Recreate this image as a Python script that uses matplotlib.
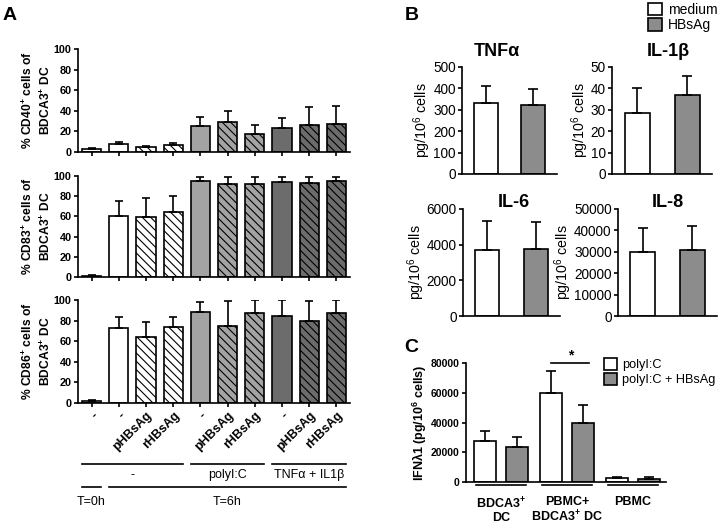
import numpy as np
import matplotlib.pyplot as plt
import matplotlib.transforms as mtransforms
from matplotlib.patches import Patch

plt.rcParams['font.family'] = ['Liberation Sans', 'DejaVu Sans']
plt.rcParams['mathtext.fontset'] = 'custom'
plt.rcParams['mathtext.rm'] = 'Liberation Sans'
plt.rcParams['mathtext.bf'] = 'Liberation Sans:bold'
plt.rcParams['mathtext.default'] = 'regular'
plt.rcParams['hatch.linewidth'] = 0.8

# ---- Panel A data ----
a_ticklabels = ['-', '-', 'pHBsAg', 'rHBsAg', '-', 'pHBsAg', 'rHBsAg', '-', 'pHBsAg', 'rHBsAg']
cd40 = [3, 8, 5, 7, 25, 29, 18, 23, 26, 27]
cd40_err = [1, 1.5, 1, 1.5, 9, 11, 8, 10, 18, 18]
cd83 = [1, 60, 59, 64, 95, 92, 92, 94, 93, 95]
cd83_err = [0.5, 15, 19, 16, 4, 7, 7, 5, 6, 4]
cd86 = [2, 73, 64, 74, 88, 75, 87, 85, 80, 87]
cd86_err = [1, 11, 15, 10, 10, 24, 13, 15, 19, 13]
a_ylabels = ['% CD40$^{+}$ cells of\nBDCA3$^{+}$ DC',
             '% CD83$^{+}$ cells of\nBDCA3$^{+}$ DC',
             '% CD86$^{+}$ cells of\nBDCA3$^{+}$ DC']
# stimulation groups (first bar, last bar, label)
stim_groups = [(0, 3, '-'), (4, 6, 'polyI:C'), (7, 9, 'TNFα + IL1β')]
time_groups = [(0, 0, 'T=0h'), (1, 9, 'T=6h')]

# ---- Panel B data ----
b_names = ['TNFα', 'IL-1β', 'IL-6', 'IL-8']
b_medium = [330, 28.5, 3700, 30000]
b_medium_err = [80, 11.5, 1650, 11000]
b_hbsag = [320, 37, 3780, 31000]
b_hbsag_err = [78, 9, 1500, 11000]
b_ymax = [500, 50, 6000, 50000]
b_step = [100, 10, 2000, 10000]

# ---- Panel C data ----
c_groups = ['BDCA3$^{+}$\nDC', 'PBMC+\nBDCA3$^{+}$ DC', 'PBMC']
c_polyic = [27500, 60000, 2600]
c_polyic_err = [6800, 14500, 900]
c_hbsag = [23800, 40000, 2300]
c_hbsag_err = [6500, 12000, 900]

LW = 1.2
GRAY_B = '#8c8c8c'
hat = '\\\\\\\\'
a_colors = ['white'] * 4 + ['#a3a3a3'] * 3 + ['#6c6c6c'] * 3
a_hatches = ['', '', hat, hat, '', hat, hat, '', hat, hat]


def style_axes(ax, tick_size, bold):
    for s in ['top', 'right']:
        ax.spines[s].set_visible(False)
    for s in ['left', 'bottom']:
        ax.spines[s].set_linewidth(LW)
    ax.tick_params(width=LW, length=3, labelsize=tick_size, pad=1.5)
    if bold:
        for t in ax.get_yticklabels() + ax.get_xticklabels():
            t.set_fontweight('bold')


fig = plt.figure(figsize=(7.2, 5.28), dpi=100)

# ---- Panel A ----
a_rects = [(0.712, 0.195), (0.4754, 0.191), (0.2367, 0.195)]
a_data = [(cd40, cd40_err), (cd83, cd83_err), (cd86, cd86_err)]
x = np.arange(len(cd40))
bw = 0.7
axes_a = []
for (bot, h), (vals, errs), ylab in zip(a_rects, a_data, a_ylabels):
    ax = fig.add_axes([78 / 720, bot, 272 / 720, h])
    ax.bar(x, vals, width=bw, color=a_colors, edgecolor='black', linewidth=LW,
           hatch=a_hatches)
    ax.errorbar(x, vals, yerr=[np.zeros(len(errs)), errs], fmt='none',
                ecolor='black', elinewidth=LW, capsize=3, capthick=LW)
    ax.set_xlim(-0.5, 9.5)
    ax.set_ylim(0, 100)
    ax.set_yticks(range(0, 101, 20))
    ax.set_xticks(x)
    ax.set_xticklabels([])
    ax.set_ylabel(ylab, fontweight='bold', fontsize=8.7, linespacing=1.3)
    ax.yaxis.set_label_coords(-0.093, 0.5)
    style_axes(ax, 7.8, True)
    axes_a.append(ax)

ax = axes_a[-1]
ax.set_xticklabels(a_ticklabels, rotation=45, ha='right', rotation_mode='anchor',
                   fontweight='bold', fontsize=9)
trans = mtransforms.blended_transform_factory(ax.transData, fig.transFigure)
for i0, i1, lab in stim_groups:
    ax.plot([i0 - bw / 2, i1 + bw / 2], [0.121, 0.121], color='black', lw=LW,
            transform=trans, clip_on=False)
    ax.text((i0 + i1) / 2, 0.100, lab, transform=trans, ha='center', va='center',
            fontsize=9)
for i0, i1, lab in time_groups:
    ax.plot([i0 - bw / 2, i1 + bw / 2], [0.078, 0.078], color='black', lw=LW,
            transform=trans, clip_on=False)
    ax.text((i0 + i1) / 2, 0.049, lab, transform=trans, ha='center', va='center',
            fontsize=9)

# ---- Panel B ----
b_rects = [(462, 95, 0.6705), (612, 100, 0.6705), (463, 97, 0.4015), (618, 99, 0.4015)]
b_title_pos = [(0.37, 1.14), (0.56, 1.14), (0.52, 1.056), (0.5, 1.056)]
for k, (l, w, bot) in enumerate(b_rects):
    ax = fig.add_axes([l / 720, bot, w / 720, 0.2027])
    xb = np.arange(2)
    vals = [b_medium[k], b_hbsag[k]]
    errs = [b_medium_err[k], b_hbsag_err[k]]
    ax.bar(xb, vals, width=0.5, color=['white', GRAY_B], edgecolor='black',
           linewidth=LW)
    ax.errorbar(xb, vals, yerr=[[0, 0], errs], fmt='none', ecolor='black',
                elinewidth=LW, capsize=3.5, capthick=LW)
    ax.set_xlim(-0.5, 1.5)
    ax.set_ylim(0, b_ymax[k])
    ax.set_yticks(np.arange(0, b_ymax[k] + 1, b_step[k]))
    ax.set_xticks([])
    ax.set_ylabel('pg/10$^{6}$ cells', fontsize=10.3, labelpad=0)
    style_axes(ax, 9.8, False)
    tx, ty = b_title_pos[k]
    ax.text(tx, ty, b_names[k], transform=ax.transAxes, ha='center', va='center',
            fontweight='bold', fontsize=13)

fig.legend(handles=[Patch(facecolor='white', edgecolor='black', lw=LW, label='medium'),
                    Patch(facecolor=GRAY_B, edgecolor='black', lw=LW, label='HBsAg')],
           loc='upper right', bbox_to_anchor=(1.0, 1.0), frameon=False, fontsize=10,
           handlelength=1.0, handleheight=1.0, handletextpad=0.4, labelspacing=0.1,
           borderaxespad=0.1, borderpad=0.1)

# ---- Panel C ----
ax = fig.add_axes([466 / 720, 0.0871, 200 / 720, 0.2254])
xc = np.arange(len(c_groups))
off, cw = 0.24, 0.33
ax.bar(xc - off, c_polyic, width=cw, color='white', edgecolor='black', linewidth=LW,
       label='polyI:C')
ax.bar(xc + off, c_hbsag, width=cw, color=GRAY_B, edgecolor='black', linewidth=LW,
       label='polyI:C + HBsAg')
ax.errorbar(xc - off, c_polyic, yerr=[np.zeros(3), c_polyic_err], fmt='none',
            ecolor='black', elinewidth=LW, capsize=3.5, capthick=LW)
ax.errorbar(xc + off, c_hbsag, yerr=[np.zeros(3), c_hbsag_err], fmt='none',
            ecolor='black', elinewidth=LW, capsize=3.5, capthick=LW)
ax.set_xlim(-0.53, 2.5)
ax.set_ylim(0, 80000)
ax.set_yticks(range(0, 80001, 20000))
ax.set_xticks([])
ax.set_ylabel('IFNλ1 (pg/10$^{6}$ cells)', fontweight='bold', fontsize=9, labelpad=1)
style_axes(ax, 7.5, True)
transc = mtransforms.blended_transform_factory(ax.transData, fig.transFigure)
for i, lab in enumerate(c_groups):
    ax.plot([i - 0.38, i + 0.38], [0.081, 0.081], color='black', lw=LW,
            transform=transc, clip_on=False)
    ax.text(i, 0.060, lab, transform=transc, ha='center', va='top',
            fontweight='bold', fontsize=9, linespacing=1.05)
ax.plot([1 - off, 1 + off + 0.09], [80000, 80000], color='black', lw=LW, clip_on=False)
ax.text(1 + 0.05, 80500, '*', ha='center', va='bottom', fontsize=10, fontweight='bold')
ax.legend(loc='upper left', bbox_to_anchor=(0.685, 1.05), frameon=False, fontsize=9.2,
          handlelength=1.0, handleheight=1.0, handletextpad=0.4, labelspacing=0.15,
          borderaxespad=0.0, borderpad=0.1)

fig.text(10 / 720, 1 - 16 / 528, 'A', ha='center', va='center', fontsize=14,
         fontweight='bold')
fig.text(412 / 720, 1 - 16 / 528, 'B', ha='center', va='center', fontsize=14,
         fontweight='bold')
fig.text(411 / 720, 1 - 348 / 528, 'C', ha='center', va='center', fontsize=14,
         fontweight='bold')

fig.savefig('out.png', dpi=100)
